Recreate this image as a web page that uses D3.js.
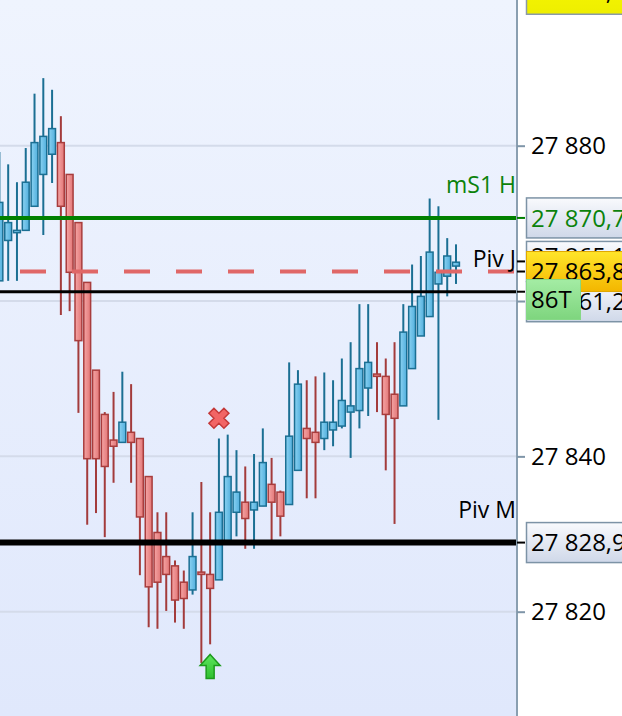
<!DOCTYPE html>
<html>
<head>
<meta charset="utf-8">
<script src="https://cdn.jsdelivr.net/npm/d3@7"></script>
<style>
  html, body { margin: 0; padding: 0; background: #ffffff; }
  svg { display: block; }
  text { font-family: "Open Sans", "Noto Sans", sans-serif; }
</style>
</head>
<body>
<svg id="chart" width="622" height="716"></svg>
<script>
// ---------------- DATA ----------------
const opens  = [27862.6, 27867.8, 27868.8, 27869.1, 27872.2, 27876.3, 27878.9, 27880.4, 27876.3, 27870.1,
                27862.4, 27851.1, 27845.4, 27842.1, 27841.8, 27843.1, 27842.3, 27837.4, 27830.2, 27827.1,
                27825.9, 27823.8, 27822.8, 27825.1, 27824.8, 27824.1, 27829.1, 27832.8, 27834.1, 27833.1,
                27833.6, 27836.4, 27835.4, 27833.8, 27838.2, 27843.6, 27843.1, 27842.3, 27843.4, 27843.9,
                27845.7, 27845.9, 27848.8, 27850.6, 27850.3, 27848.0, 27846.5, 27851.3, 27855.5, 27858.0,
                27862.2, 27863.2, 27864.5];
const closes = [27872.7, 27870.1, 27869.1, 27875.3, 27880.4, 27881.2, 27882.2, 27872.2, 27863.7, 27854.9,
                27839.7, 27839.7, 27838.7, 27841.3, 27844.4, 27841.8, 27832.2, 27823.2, 27823.8, 27824.8,
                27821.5, 27821.7, 27827.1, 27824.8, 27823.0, 27832.8, 27837.4, 27835.4, 27832.0, 27834.1,
                27839.2, 27834.1, 27832.3, 27842.6, 27849.3, 27842.3, 27841.8, 27844.4, 27844.4, 27847.2,
                27846.5, 27851.3, 27852.1, 27850.3, 27845.4, 27844.9, 27856.0, 27859.3, 27860.6, 27866.3,
                27863.7, 27865.8, 27865.0];
const highs  = [27879.2, 27877.6, 27875.3, 27879.7, 27886.7, 27888.7, 27887.2, 27883.8, 27876.3, 27870.1,
                27862.4, 27851.1, 27845.7, 27848.3, 27850.9, 27849.3, 27842.3, 27837.4, 27832.8, 27832.8,
                27826.6, 27825.3, 27832.8, 27836.7, 27832.8, 27842.3, 27842.8, 27840.8, 27838.7, 27840.3,
                27843.6, 27839.8, 27835.6, 27852.1, 27851.1, 27849.8, 27850.3, 27850.8, 27849.8, 27852.6,
                27854.7, 27859.6, 27859.6, 27854.7, 27852.6, 27854.7, 27859.6, 27864.7, 27865.8, 27873.2,
                27872.2, 27868.1, 27867.3];
const lows   = [27862.6, 27862.6, 27862.6, 27869.1, 27872.2, 27868.5, 27875.2, 27858.2, 27858.7, 27845.6,
                27831.2, 27832.7, 27829.6, 27836.6, 27841.8, 27836.6, 27824.7, 27818.0, 27817.8, 27820.1,
                27818.6, 27817.8, 27822.2, 27813.4, 27815.8, 27824.1, 27829.1, 27829.7, 27828.1, 27828.1,
                27833.6, 27829.1, 27829.7, 27833.8, 27838.2, 27834.6, 27834.6, 27840.8, 27841.3, 27843.6,
                27839.8, 27843.6, 27845.2, 27845.7, 27838.2, 27831.3, 27846.5, 27851.3, 27855.5, 27858.0,
                27844.7, 27860.6, 27862.2];

const tickValues = [27820, 27840, 27860, 27880];

// horizontal levels
const levelNames  = ["mS1 H", "", "Piv J", "Piv M"];
const levelValues = [27870.7, 27863.8, 27861.2, 27828.9];
const levelKinds  = ["green", "dash", "black", "blackThick"];

// extra right-axis price boxes (hidden / stacked ones)
const boxValues = [27870.7, 27865.1, 27861.2, 27828.9];
const boxKinds  = ["green", "plain", "plain", "plain"];
const topBoxValue = 27899.5;       // yellow box cut at the top
const currentPrice = 27863.8;      // yellow/orange current price box
const counterText = "86T";         // green counter box

// signals
const crossIndex = 25, crossPrice = 27844.9;
const arrowIndex = 24, arrowPrice = 27814.5;

// ---------------- LAYOUT ----------------
const W = 622, H = 716;
const plotRight = 517;
const svg = d3.select("#chart");

const y = d3.scaleLinear().domain([27820, 27880]).range([611.7, 145.7]);
const idx = d3.range(opens.length);
const x = d3.scaleBand().domain(idx).range([-4.99, 460.39]).paddingInner(0.05).paddingOuter(0.025);

const loc = d3.formatLocale({decimal: ",", thousands: " ", grouping: [3], currency: ["", ""]});
const fmt0 = loc.format(",.0f");
const fmt1 = loc.format(",.1f");

const styles = {
  green:      {color: "#008000", width: 4, dash: null, text: "#0b820b"},
  dash:       {color: "#e06767", width: 4, dash: "26 26", text: "#000"},
  black:      {color: "#000000", width: 3, dash: null, text: "#000"},
  blackThick: {color: "#000000", width: 6, dash: null, text: "#000"},
  plain:      {color: "#000000", width: 0, dash: null, text: "#000"}
};

// ---------------- DEFS ----------------
const defs = svg.append("defs");
function vgrad(id, stops) {
  const g = defs.append("linearGradient").attr("id", id).attr("x1", 0).attr("y1", 0).attr("x2", 0).attr("y2", 1);
  stops.forEach(s => g.append("stop").attr("offset", s[0]).attr("stop-color", s[1]));
}
function hgrad(id, stops) {
  const g = defs.append("linearGradient").attr("id", id).attr("x1", 0).attr("y1", 0).attr("x2", 1).attr("y2", 0);
  stops.forEach(s => g.append("stop").attr("offset", s[0]).attr("stop-color", s[1]));
}
vgrad("bg", [[0, "#eff4fe"], [1, "#e0e8fc"]]);
vgrad("boxg", [[0, "#f9fafd"], [1, "#cfd8e9"]]);
vgrad("yel", [[0, "#ffe52a"], [1, "#f3b600"]]);
vgrad("lemon", [[0, "#f8f800"], [1, "#eeee00"]]);
vgrad("grn", [[0, "#a4eca4"], [1, "#7ed57e"]]);
hgrad("blueBody", [[0, "#8ad2f2"], [1, "#52afdd"]]);
hgrad("redBody", [[0, "#f5a5a5"], [1, "#e27777"]]);
vgrad("arrowG", [[0, "#5ee65e"], [1, "#2fbf2f"]]);

defs.append("clipPath").attr("id", "plotClip")
  .append("rect").attr("x", 0).attr("y", 0).attr("width", plotRight).attr("height", H);

// background
svg.append("rect").attr("x", 0).attr("y", 0).attr("width", plotRight).attr("height", H).attr("fill", "url(#bg)");
svg.append("rect").attr("x", plotRight).attr("y", 0).attr("width", W - plotRight).attr("height", H).attr("fill", "#ffffff");

const plot = svg.append("g").attr("clip-path", "url(#plotClip)");

// gridlines
plot.selectAll("line.grid").data(tickValues).join("line")
  .attr("class", "grid")
  .attr("x1", 0).attr("x2", plotRight)
  .attr("y1", d => y(d)).attr("y2", d => y(d))
  .attr("stroke", "#d4dbea").attr("stroke-width", 2);

// candles
const cx = i => x(i) + x.bandwidth() / 2;
const candles = plot.selectAll("g.candle").data(idx).join("g").attr("class", "candle");
candles.append("line")
  .attr("x1", i => cx(i)).attr("x2", i => cx(i))
  .attr("y1", i => y(highs[i])).attr("y2", i => y(lows[i]))
  .attr("stroke", i => closes[i] >= opens[i] ? "#1b6f93" : "#a33b3b")
  .attr("stroke-width", 2);
candles.append("rect")
  .attr("x", i => x(i) + 0.75)
  .attr("width", x.bandwidth() - 1.5)
  .attr("y", i => y(Math.max(opens[i], closes[i])))
  .attr("height", i => Math.max(1.5, Math.abs(y(opens[i]) - y(closes[i]))))
  .attr("fill", i => closes[i] >= opens[i] ? "url(#blueBody)" : "url(#redBody)")
  .attr("stroke", i => closes[i] >= opens[i] ? "#1b6f93" : "#a83d3d")
  .attr("stroke-width", 1.5);

// level lines
levelValues.forEach((v, k) => {
  const s = styles[levelKinds[k]];
  plot.append("line")
    .attr("x1", 0).attr("x2", plotRight)
    .attr("y1", y(v)).attr("y2", y(v))
    .attr("stroke", s.color).attr("stroke-width", s.width)
    .attr("stroke-dasharray", s.dash)
    .attr("stroke-dashoffset", s.dash ? 32 : null);
  if (levelNames[k]) {
    plot.append("text")
      .attr("x", plotRight - 1).attr("y", y(v) - 25)
      .attr("text-anchor", "end")
      .attr("font-size", 23)
      .attr("fill", s.text)
      .text(levelNames[k]);
  }
});

// signals
plot.append("path")
  .attr("d", d3.symbol(d3.symbolCross, 250)())
  .attr("transform", `translate(${cx(crossIndex)},${y(crossPrice)}) rotate(45)`)
  .attr("fill", "#f26565").attr("stroke", "#c43838").attr("stroke-width", 1.5);

const ax = cx(arrowIndex), ay = y(arrowPrice);
const arrowPath = d3.path();
arrowPath.moveTo(ax, ay);
arrowPath.lineTo(ax + 10, ay + 11);
arrowPath.lineTo(ax + 4, ay + 11);
arrowPath.lineTo(ax + 4, ay + 24);
arrowPath.lineTo(ax - 4, ay + 24);
arrowPath.lineTo(ax - 4, ay + 11);
arrowPath.lineTo(ax - 10, ay + 11);
arrowPath.closePath();
plot.append("path").attr("d", arrowPath.toString())
  .attr("fill", "url(#arrowG)").attr("stroke", "#1d9a1d").attr("stroke-width", 1.5);

// axis line
svg.append("line").attr("x1", plotRight).attr("x2", plotRight).attr("y1", 0).attr("y2", H)
  .attr("stroke", "#8a9fb1").attr("stroke-width", 2);

// right axis
const axis = d3.axisRight(y).tickValues(tickValues).tickSize(8).tickPadding(6).tickFormat(fmt0);
const axG = svg.append("g").attr("transform", `translate(${plotRight},0)`).call(axis);
axG.select(".domain").remove();
axG.selectAll(".tick line").attr("stroke", "#7f95a8").attr("stroke-width", 2);
axG.selectAll(".tick text").attr("font-size", 24).attr("fill", "#000")
  .style("font-family", "'Open Sans', 'Noto Sans', sans-serif");

// level ticks on axis
const tickColors = {green: "#008000", plain: "#000", dash: "#000"};
boxValues.concat([currentPrice]).forEach((v, k) => {
  const kind = k < boxKinds.length ? boxKinds[k] : "dash";
  svg.append("line")
    .attr("x1", plotRight).attr("x2", plotRight + 8)
    .attr("y1", y(v)).attr("y2", y(v))
    .attr("stroke", tickColors[kind]).attr("stroke-width", 2);
});

// price boxes with simple stacking
const boxH = 40, boxX = 526.5, boxW = 110;
let lastBottom = -Infinity;
const boxes = boxValues.map((v, k) => ({v, kind: boxKinds[k]})).sort((a, b) => b.v - a.v);
boxes.forEach(b => {
  let top = y(b.v) - boxH / 2;
  if (top < lastBottom + 0.3) top = lastBottom + 0.3;
  b.top = top; lastBottom = top + boxH;
});
boxes.forEach((b, k) => {
  svg.append("rect").attr("x", boxX).attr("y", b.top).attr("width", boxW).attr("height", boxH)
    .attr("fill", "url(#boxg)").attr("stroke", "#7d93a6").attr("stroke-width", 1.5);
  const hidden = b.kind === "plain" && Math.abs(b.v - 27865.1) < 0.01;
  svg.append("text").attr("x", 531).attr("y", hidden ? b.top + 24 : b.top + boxH / 2 + 8.6)
    .attr("font-size", 24)
    .attr("fill", b.kind === "green" ? "#0b820b" : "#000")
    .text(fmt1(b.v));
});

// top yellow box (cut)
const tTop = y(topBoxValue) - boxH / 2;
svg.append("rect").attr("x", boxX).attr("y", tTop).attr("width", boxW).attr("height", boxH)
  .attr("fill", "url(#lemon)").attr("stroke", "#8a9aa8").attr("stroke-width", 1.5);
svg.append("text").attr("x", 531).attr("y", tTop + boxH / 2 + 6).attr("font-size", 24).attr("fill", "#000")
  .text(fmt1(topBoxValue));

// current price box
const cTop = y(currentPrice) - boxH / 2;
svg.append("rect").attr("x", boxX).attr("y", cTop).attr("width", boxW).attr("height", boxH)
  .attr("fill", "url(#yel)").attr("stroke", "#e0a800").attr("stroke-width", 1);
svg.append("text").attr("x", 531).attr("y", cTop + boxH / 2 + 8.6).attr("font-size", 24).attr("fill", "#000")
  .text(fmt1(currentPrice));

// counter box
const gTop = cTop + 28;
svg.append("rect").attr("x", boxX).attr("y", gTop).attr("width", 54).attr("height", 40)
  .attr("fill", "url(#grn)").attr("stroke", "#86d886").attr("stroke-width", 1);
svg.append("text").attr("x", 531).attr("y", gTop + 20 + 8.6).attr("font-size", 24).attr("fill", "#000")
  .text(counterText);
</script>
</body>
</html>
